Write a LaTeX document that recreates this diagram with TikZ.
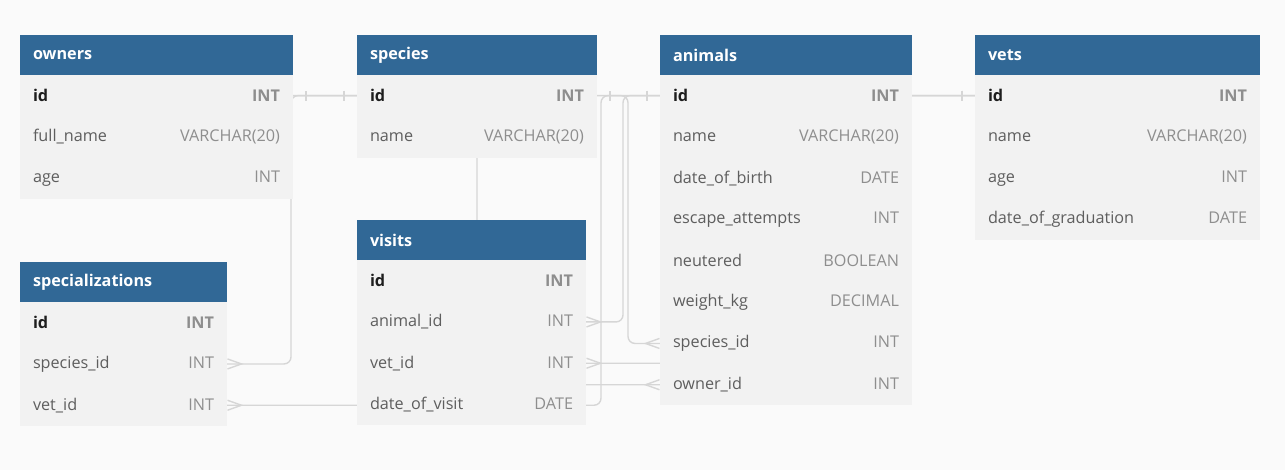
\documentclass[tikz,border=0pt]{standalone}
\usepackage{fontspec}
\setmainfont{Open Sans}
\usepackage{xcolor}
\definecolor{pagebg}{HTML}{FAFAFA}
\definecolor{header}{HTML}{316896}
\definecolor{rowfill}{HTML}{F2F2F2}
\definecolor{conn}{HTML}{D6D6D6}
\definecolor{keytext}{HTML}{1E1E1E}
\definecolor{coltext}{HTML}{5E5E5E}
\definecolor{typtext}{HTML}{8E8E8E}
\usetikzlibrary{positioning, backgrounds, decorations.markings}
\newcommand{\tblfont}{\fontsize{16.2}{19}\selectfont}
\newcommand{\typ}[1]{\textcolor{typtext}{#1}}
\tikzset{
  hdr/.style={
    rectangle, fill=header, text=white, font=\tblfont\bfseries,
    text width=#1, minimum height=40pt, inner xsep=13pt, inner ysep=0pt,
    outer sep=0pt, anchor=north west
  },
  fld/.style={
    rectangle, fill=rowfill, text=coltext, font=\tblfont,
    text width=#1, minimum height=41.3pt, inner xsep=13pt, inner ysep=0pt,
    outer sep=0pt
  },
  pk/.style={font=\tblfont\bfseries, text=keytext},
  rel/.style={
    draw=conn, line width=1.4pt, rounded corners=7pt,
    postaction=decorate,
    decoration={markings,
      mark=at position 13pt with {\draw[draw=conn, line width=1.4pt, rounded corners=0pt] (0pt,-5pt) -- (0pt,5pt);},
      mark=at position -0.5pt with {\draw[draw=conn, line width=1.4pt, rounded corners=0pt] (0pt,5pt) -- (-14pt,0pt) -- (0pt,-5pt);}}
  }
}

\begin{document}
\begin{tikzpicture}[x=1pt, y=-1pt]
  \useasboundingbox (0,0) rectangle (1285,470);

  %% owners
  \node[hdr=247pt] (own-hdr) at (20,35) {owners};
  \node[fld=247pt, pk, below=0pt of own-hdr] (own-id) {id\hfill\typ{INT}};
  \node[fld=247pt, below=0pt of own-id] (own-name) {full\_name\hfill\typ{VARCHAR(20)}};
  \node[fld=247pt, below=0pt of own-name] (own-age) {age\hfill\typ{INT}};

  %% species
  \node[hdr=214pt] (spc-hdr) at (357,35) {species};
  \node[fld=214pt, pk, below=0pt of spc-hdr] (spc-id) {id\hfill\typ{INT}};
  \node[fld=214pt, below=0pt of spc-id] (spc-name) {name\hfill\typ{VARCHAR(20)}};

  %% animals
  \node[hdr=226pt] (ani-hdr) at (660,35) {animals};
  \node[fld=226pt, pk, below=0pt of ani-hdr] (ani-id) {id\hfill\typ{INT}};
  \node[fld=226pt, below=0pt of ani-id] (ani-name) {name\hfill\typ{VARCHAR(20)}};
  \node[fld=226pt, below=0pt of ani-name] (ani-dob) {date\_of\_birth\hfill\typ{DATE}};
  \node[fld=226pt, below=0pt of ani-dob] (ani-esc) {escape\_attempts\hfill\typ{INT}};
  \node[fld=226pt, below=0pt of ani-esc] (ani-neu) {neutered\hfill\typ{BOOLEAN}};
  \node[fld=226pt, below=0pt of ani-neu] (ani-wgt) {weight\_kg\hfill\typ{DECIMAL}};
  \node[fld=226pt, below=0pt of ani-wgt] (ani-spc) {species\_id\hfill\typ{INT}};
  \node[fld=226pt, below=0pt of ani-spc] (ani-owner) {owner\_id\hfill\typ{INT}};

  %% vets
  \node[hdr=259pt] (vet-hdr) at (975,35) {vets};
  \node[fld=259pt, pk, below=0pt of vet-hdr] (vet-id) {id\hfill\typ{INT}};
  \node[fld=259pt, below=0pt of vet-id] (vet-name) {name\hfill\typ{VARCHAR(20)}};
  \node[fld=259pt, below=0pt of vet-name] (vet-age) {age\hfill\typ{INT}};
  \node[fld=259pt, below=0pt of vet-age] (vet-grad) {date\_of\_graduation\hfill\typ{DATE}};

  %% specializations
  \node[hdr=181pt] (spl-hdr) at (20,262) {specializations};
  \node[fld=181pt, pk, below=0pt of spl-hdr] (spl-id) {id\hfill\typ{INT}};
  \node[fld=181pt, below=0pt of spl-id] (spl-spc) {species\_id\hfill\typ{INT}};
  \node[fld=181pt, below=0pt of spl-spc] (spl-vet) {vet\_id\hfill\typ{INT}};

  %% visits
  \node[hdr=203pt] (vis-hdr) at (357,220) {visits};
  \node[fld=203pt, pk, below=0pt of vis-hdr] (vis-id) {id\hfill\typ{INT}};
  \node[fld=203pt, below=0pt of vis-id] (vis-ani) {animal\_id\hfill\typ{INT}};
  \node[fld=203pt, below=0pt of vis-ani] (vis-vet) {vet\_id\hfill\typ{INT}};
  \node[fld=203pt, below=0pt of vis-vet] (vis-date) {date\_of\_visit\hfill\typ{DATE}};

  %% relations, behind the tables
  \begin{scope}[on background layer]
    \fill[pagebg] (0,0) rectangle (1285,470);
    \draw[rel] (own-id.east) -| (spc-name.south) |- (ani-owner.west);
    \draw[rel] (spc-id.west) -| ([xshift=-2pt]own-age.south east) |- (spl-spc.east);
    \draw[rel] (spc-id.east) -- ++(31,0) |- (ani-spc.west);
    \draw[rel] (ani-id.west) -- ++(-37,0) |- (vis-ani.east);
    \draw[rel] (vet-id.west) -- ++(-195,0) |- (vis-vet.east);
    \draw[rel] (vet-id.west) -- ++(-374,0) |- (spl-vet.east);
  \end{scope}

\end{tikzpicture}
\end{document}
